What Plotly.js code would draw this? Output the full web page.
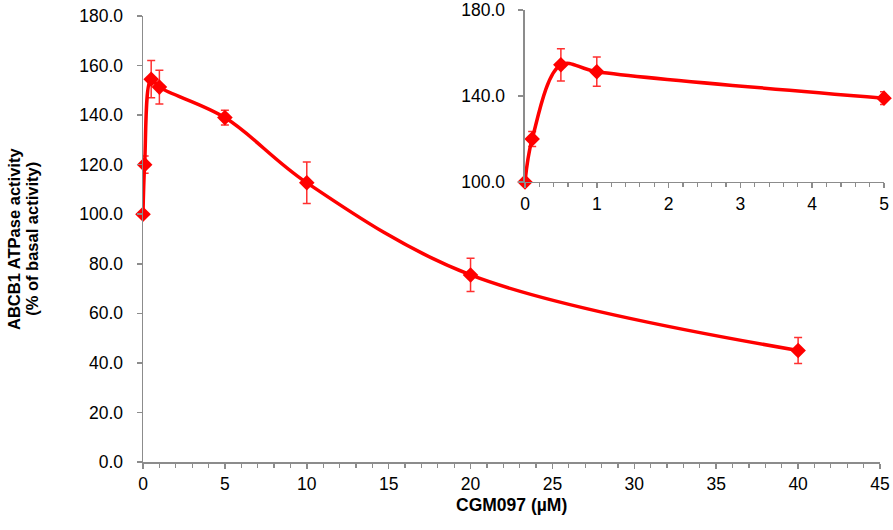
<!DOCTYPE html>
<html>
<head>
<meta charset="utf-8">
<script src="https://cdn.plot.ly/plotly-3.0.1.min.js"></script>
<style>
  html, body { margin: 0; padding: 0; background: #fff; }
  #grafico { width: 893px; height: 530px; }
</style>
</head>
<body>
<div id="grafico"></div>
<script>
// Concentración de CGM097 (µM) y actividad ATPasa de ABCB1 (% del basal)
const concentraciones = [0, 0.1, 0.5, 1, 5, 10, 20, 40];
const actividad = [100, 120, 154.5, 151.3, 139, 112.7, 75.5, 45];
const errorActividad = [0, 3.5, 7.5, 6.8, 3, 8.4, 6.7, 5.2];

// el recuadro muestra solo el tramo 0-5 µM
const concentracionesInset = concentraciones.filter((c) => c <= 5);
const actividadInset = actividad.slice(0, concentracionesInset.length);
const errorInset = errorActividad.slice(0, concentracionesInset.length);

const ticksY = [0, 20, 40, 60, 80, 100, 120, 140, 160, 180];
const ticksYInset = [100, 140, 180];

const tituloX = 'CGM097 (µM)';
const tituloY = ['ABCB1 ATPase activity', '(% of basal activity)'];

const ROJO = '#ff0000';
const GRIS_EJE = '#8c8c8c';
const FUENTE = 'Arial, "Liberation Sans", sans-serif';

function traza(x, y, err, ejeX, ejeY) {
  return {
    type: 'scatter',
    mode: 'lines+markers',
    x, y,
    xaxis: ejeX, yaxis: ejeY,
    cliponaxis: false,
    line: { color: ROJO, width: 3.5, shape: 'spline', smoothing: 1 },
    marker: { symbol: 'diamond', size: 12, color: ROJO },
    error_y: { type: 'data', array: err, visible: true, color: '#ff3030', thickness: 1.5, width: 4 },
    showlegend: false,
    hoverinfo: 'x+y',
  };
}

const trazas = [
  traza(concentraciones, actividad, errorActividad, 'x', 'y'),
  traza(concentracionesInset, actividadInset, errorInset, 'x2', 'y2'),
];

const ejeBase = {
  showline: true, linecolor: GRIS_EJE, linewidth: 1.5,
  ticks: 'outside', ticklen: 5, tickwidth: 1.5, tickcolor: GRIS_EJE,
  showgrid: false, zeroline: false,
  tickfont: { family: FUENTE, size: 17.5, color: '#000' },
};

// títulos como anotaciones: así se ubican donde están en la figura original
// (los títulos de eje de Plotly quedaban demasiado lejos de los ticks)
const annotations = [
  { text: `<b>${tituloX}</b>`, xref: 'paper', yref: 'paper', x: 0.4973, y: -0.0962,
    xanchor: 'center', yanchor: 'middle', showarrow: false, font: { family: FUENTE, size: 17.5 } },
  { text: `<b>${tituloY[0]}</b>`, xref: 'paper', yref: 'paper', x: -0.1741, y: 0.4934, textangle: -90,
    xanchor: 'center', yanchor: 'middle', showarrow: false, font: { family: FUENTE, size: 16.5 } },
  { text: `<b>${tituloY[1]}</b>`, xref: 'paper', yref: 'paper', x: -0.1500, y: 0.4934, textangle: -90,
    xanchor: 'center', yanchor: 'middle', showarrow: false, font: { family: FUENTE, size: 16.5 } },
];

const layout = {
  width: 893, height: 530,
  margin: { l: 143, r: 9, t: 10, b: 68 },
  paper_bgcolor: '#fff', plot_bgcolor: 'rgba(0,0,0,0)',
  font: { family: FUENTE, color: '#000' },
  annotations,
  xaxis: {
    ...ejeBase,
    domain: [0, 0.9946], range: [0, 45], dtick: 5, tick0: 0,
    ticklabelstandoff: 0,
    minor: { dtick: 1, ticks: 'outside', ticklen: 4, tickcolor: GRIS_EJE, tickwidth: 1.2 },
    anchor: 'y',
  },
  yaxis: {
    ...ejeBase,
    domain: [0, 0.9867], range: [0, 180], tickvals: ticksY, tickformat: '.1f',
    ticklabelstandoff: 10,
    anchor: 'x',
  },
  xaxis2: {
    ...ejeBase,
    domain: [0.5155, 1], range: [0, 5], dtick: 1, tick0: 0,
    ticklabelstandoff: 1,
    minor: { dtick: 0.2, ticks: 'outside', ticklen: 4, tickcolor: GRIS_EJE, tickwidth: 1.2 },
    anchor: 'y2',
  },
  yaxis2: {
    ...ejeBase,
    domain: [0.6195, 1], range: [100, 180], tickvals: ticksYInset, tickformat: '.1f',
    ticklabelstandoff: 10,
    anchor: 'x2',
  },
};

Plotly.newPlot('grafico', trazas, layout, { displayModeBar: false, staticPlot: true });
</script>
</body>
</html>
